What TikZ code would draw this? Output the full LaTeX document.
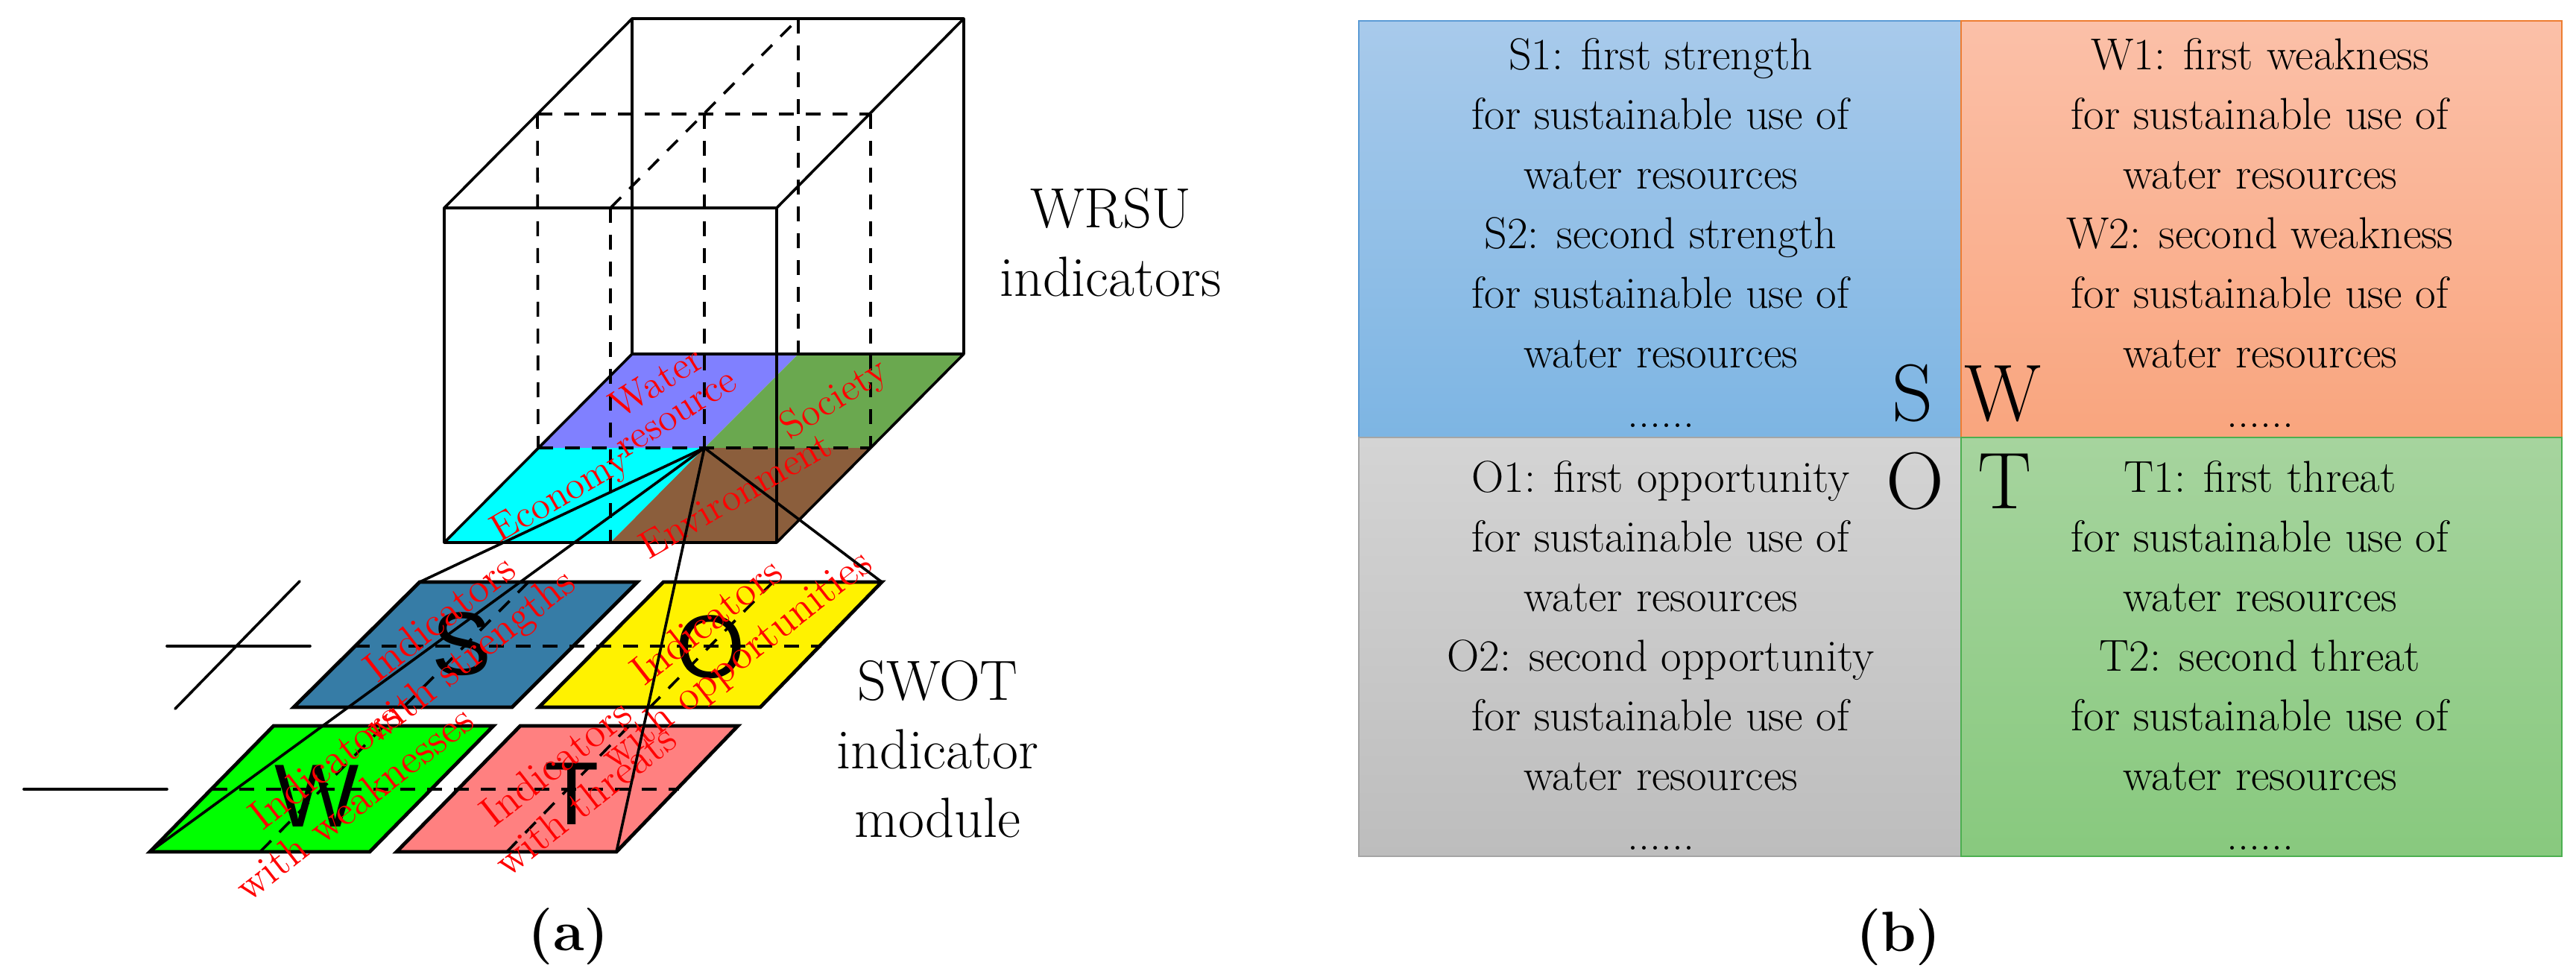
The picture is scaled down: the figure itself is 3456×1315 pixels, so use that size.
\documentclass[tikz,border=0pt]{standalone}
\usepackage{fontspec}
\newfontfamily\bigsans{Liberation Sans}
\begin{document}
\begin{tikzpicture}[x=0.25pt,y=-0.25pt,
  edge/.style={line width=0.9pt,line cap=round,line join=round},
  dsh/.style={line width=0.9pt,dash pattern=on 5pt off 4pt},
  pg/.style={line width=1.2pt,line join=miter},
  red/.style={text=red,font=\fontsize{13}{12}\selectfont,align=center,inner sep=0pt},
  redb/.style={text=red,font=\fontsize{14}{16}\selectfont,align=center,inner sep=0pt,rotate=38},
  letter/.style={font=\bigsans\fontsize{30}{30}\selectfont,inner sep=0pt},
  ttl/.style={font=\fontsize{19}{23}\selectfont,align=center,inner sep=0pt},
  cell/.style={font=\fontsize{15}{20}\selectfont,align=center,inner sep=0pt},
  big/.style={font=\fontsize{27}{27}\selectfont,inner sep=0pt},
  capt/.style={font=\bfseries\fontsize{19}{19}\selectfont,inner sep=0pt}]
\useasboundingbox (0,0) rectangle (3456,1315);
% ---------- cube coordinates
\coordinate (FTL) at (596,279); \coordinate (FTR) at (1042,279);
\coordinate (FBL) at (596,728); \coordinate (FBR) at (1042,728);
\coordinate (BTL) at (848,25);  \coordinate (BTR) at (1293,25);
\coordinate (BBL) at (848,475); \coordinate (BBR) at (1293,475);
\coordinate (FM) at (819,728); \coordinate (BM) at (1071,475);
\coordinate (LM) at (722,601); \coordinate (RM) at (1168,601);
\coordinate (C) at (945,601);
% base quadrants
\fill[fill={rgb,255:red,128;green,128;blue,255}] (BBL) -- (BM) -- (C) -- (LM) -- cycle;
\fill[fill={rgb,255:red,106;green,168;blue,79}] (BM) -- (BBR) -- (RM) -- (C) -- cycle;
\fill[fill={rgb,255:red,0;green,255;blue,255}] (LM) -- (C) -- (FM) -- (FBL) -- cycle;
\fill[fill={rgb,255:red,139;green,94;blue,60}] (C) -- (RM) -- (FBR) -- (FM) -- cycle;
% dashed interior
\draw[dsh] (721,153) -- (1168,153);
\draw[dsh] (LM) -- (RM);
\draw[dsh] (721,153) -- (LM);
\draw[dsh] (945,153) -- (C);
\draw[dsh] (1168,153) -- (RM);
\draw[dsh] (819,279) -- (FM);
\draw[dsh] (1071,25) -- (BM);
\draw[dsh] (819,279) -- (1071,25);
% solid edges
\draw[edge] (FTL) -- (FTR) -- (FBR) -- (FBL) -- cycle;
\draw[edge] (BTL) -- (BTR) -- (BBR) -- (BBL) -- cycle;
\draw[edge] (FTL) -- (BTL); \draw[edge] (FTR) -- (BTR);
\draw[edge] (FBR) -- (BBR); \draw[edge] (FBL) -- (BBL);
% base labels
\node[red,rotate=32] (lwater) at (893,532) {Water\\resource};
\node[red,rotate=32] (lsoc) at (1120,537) {Society};
\node[red,rotate=30] (leco) at (753,667) {Economy};
\node[red,rotate=30] (lenv) at (986,664) {Environment};
\node[ttl] (wrsu) at (1490,325) {WRSU\\indicators};
% ---------- SWOT parallelograms
\coordinate (S1) at (563,781); \coordinate (S2) at (855,781); \coordinate (S3) at (687,949); \coordinate (S4) at (394,949);
\coordinate (O1) at (890,781); \coordinate (O2) at (1183,781); \coordinate (O3) at (1020,949); \coordinate (O4) at (723,949);
\coordinate (W1) at (367,974); \coordinate (W2) at (662,974); \coordinate (W3) at (496,1143); \coordinate (W4) at (201,1143);
\coordinate (T1) at (698,974); \coordinate (T2) at (990,974); \coordinate (T3) at (827,1143); \coordinate (T4) at (532,1143);
\fill[fill={rgb,255:red,54;green,124;blue,166}] (S1)--(S2)--(S3)--(S4)--cycle;
\fill[fill=yellow] (O1)--(O2)--(O3)--(O4)--cycle;
\fill[fill={rgb,255:red,0;green,255;blue,0}] (W1)--(W2)--(W3)--(W4)--cycle;
\fill[fill={rgb,255:red,255;green,128;blue,128}] (T1)--(T2)--(T3)--(T4)--cycle;
\draw[dsh] (476,867) -- (1102,867);
\draw[dsh] (285,1059) -- (911,1059);
\draw[dsh] (709,781) -- (541,949);
\draw[dsh] (1037,781) -- (872,949);
\draw[dsh] (515,974) -- (349,1143);
\draw[dsh] (844,974) -- (680,1143);
\foreach \p in {S,O,W,T}{\draw[pg] (\p1)--(\p2)--(\p3)--(\p4)--cycle;}
\draw[edge] (224,867) -- (416,867);
\draw[edge] (402,780) -- (235,951);
\draw[edge] (32,1059) -- (224,1059);
\node[letter] (bs) at (620,864) {S};
\node[letter] (bo) at (953,868) {O};
\node[letter] (bw) at (425,1068) {W};
\node[letter] (bt) at (767,1065) {T};
\node[redb] (ls) at (612,858) {Indicators\\with strengths};
\node[redb] (lo) at (970,862) {Indicators\\with opportunities};
\node[redb] (lw) at (455,1052) {Indicators\\with weaknesses};
\node[redb] (lt) at (765,1048) {Indicators\\with threats};
% connectors
\draw[edge] (C) -- (S1);
\draw[edge] (C) -- (W4);
\draw[edge] (C) -- (O2);
\draw[edge] (C) -- (T3);
\node[ttl] (swot) at (1258,1005) {SWOT\\indicator\\module};
\node[capt] (capa) at (763,1257) {(a)};
% ---------- right panel
\shade[top color={rgb,255:red,168;green,202;blue,235},bottom color={rgb,255:red,125;green,181;blue,227}] (1823,28) rectangle (2631,587);
\shade[top color={rgb,255:red,251;green,192;blue,168},bottom color={rgb,255:red,249;green,165;blue,126}] (2631,28) rectangle (3437,587);
\shade[top color={rgb,255:red,212;green,212;blue,212},bottom color={rgb,255:red,189;green,189;blue,189}] (1823,587) rectangle (2631,1149);
\shade[top color={rgb,255:red,166;green,212;blue,158},bottom color={rgb,255:red,136;green,201;blue,126}] (2631,587) rectangle (3437,1149);
\draw[line width=0.5pt,draw={rgb,255:red,91;green,155;blue,213}] (1823,28) rectangle (2631,587);
\draw[line width=0.5pt,draw={rgb,255:red,237;green,125;blue,49}] (2631,28) rectangle (3437,587);
\draw[line width=0.5pt,draw={rgb,255:red,165;green,165;blue,165}] (1823,587) rectangle (2631,1149);
\draw[line width=0.5pt,draw={rgb,255:red,76;green,175;blue,80}] (2631,587) rectangle (3437,1149);
\node[cell] (ts) at (2228,312) {S1: first strength\\for sustainable use of\\water resources\\S2: second strength\\for sustainable use of\\water resources\\......};
\node[cell] (tw) at (3032,312) {W1: first weakness\\for sustainable use of\\water resources\\W2: second weakness\\for sustainable use of\\water resources\\......};
\node[cell] (to) at (2228,879) {O1: first opportunity\\for sustainable use of\\water resources\\O2: second opportunity\\for sustainable use of\\water resources\\......};
\node[cell] (tt) at (3032,879) {T1: first threat\\for sustainable use of\\water resources\\T2: second threat\\for sustainable use of\\water resources\\......};
\node[big] (ks) at (2566,528) {S};
\node[big] (kw) at (2687,528) {W};
\node[big] (ko) at (2569,646) {O};
\node[big] (kt) at (2690,646) {T};
\node[capt] (capb) at (2547,1258) {(b)};
\end{tikzpicture}
\end{document}
